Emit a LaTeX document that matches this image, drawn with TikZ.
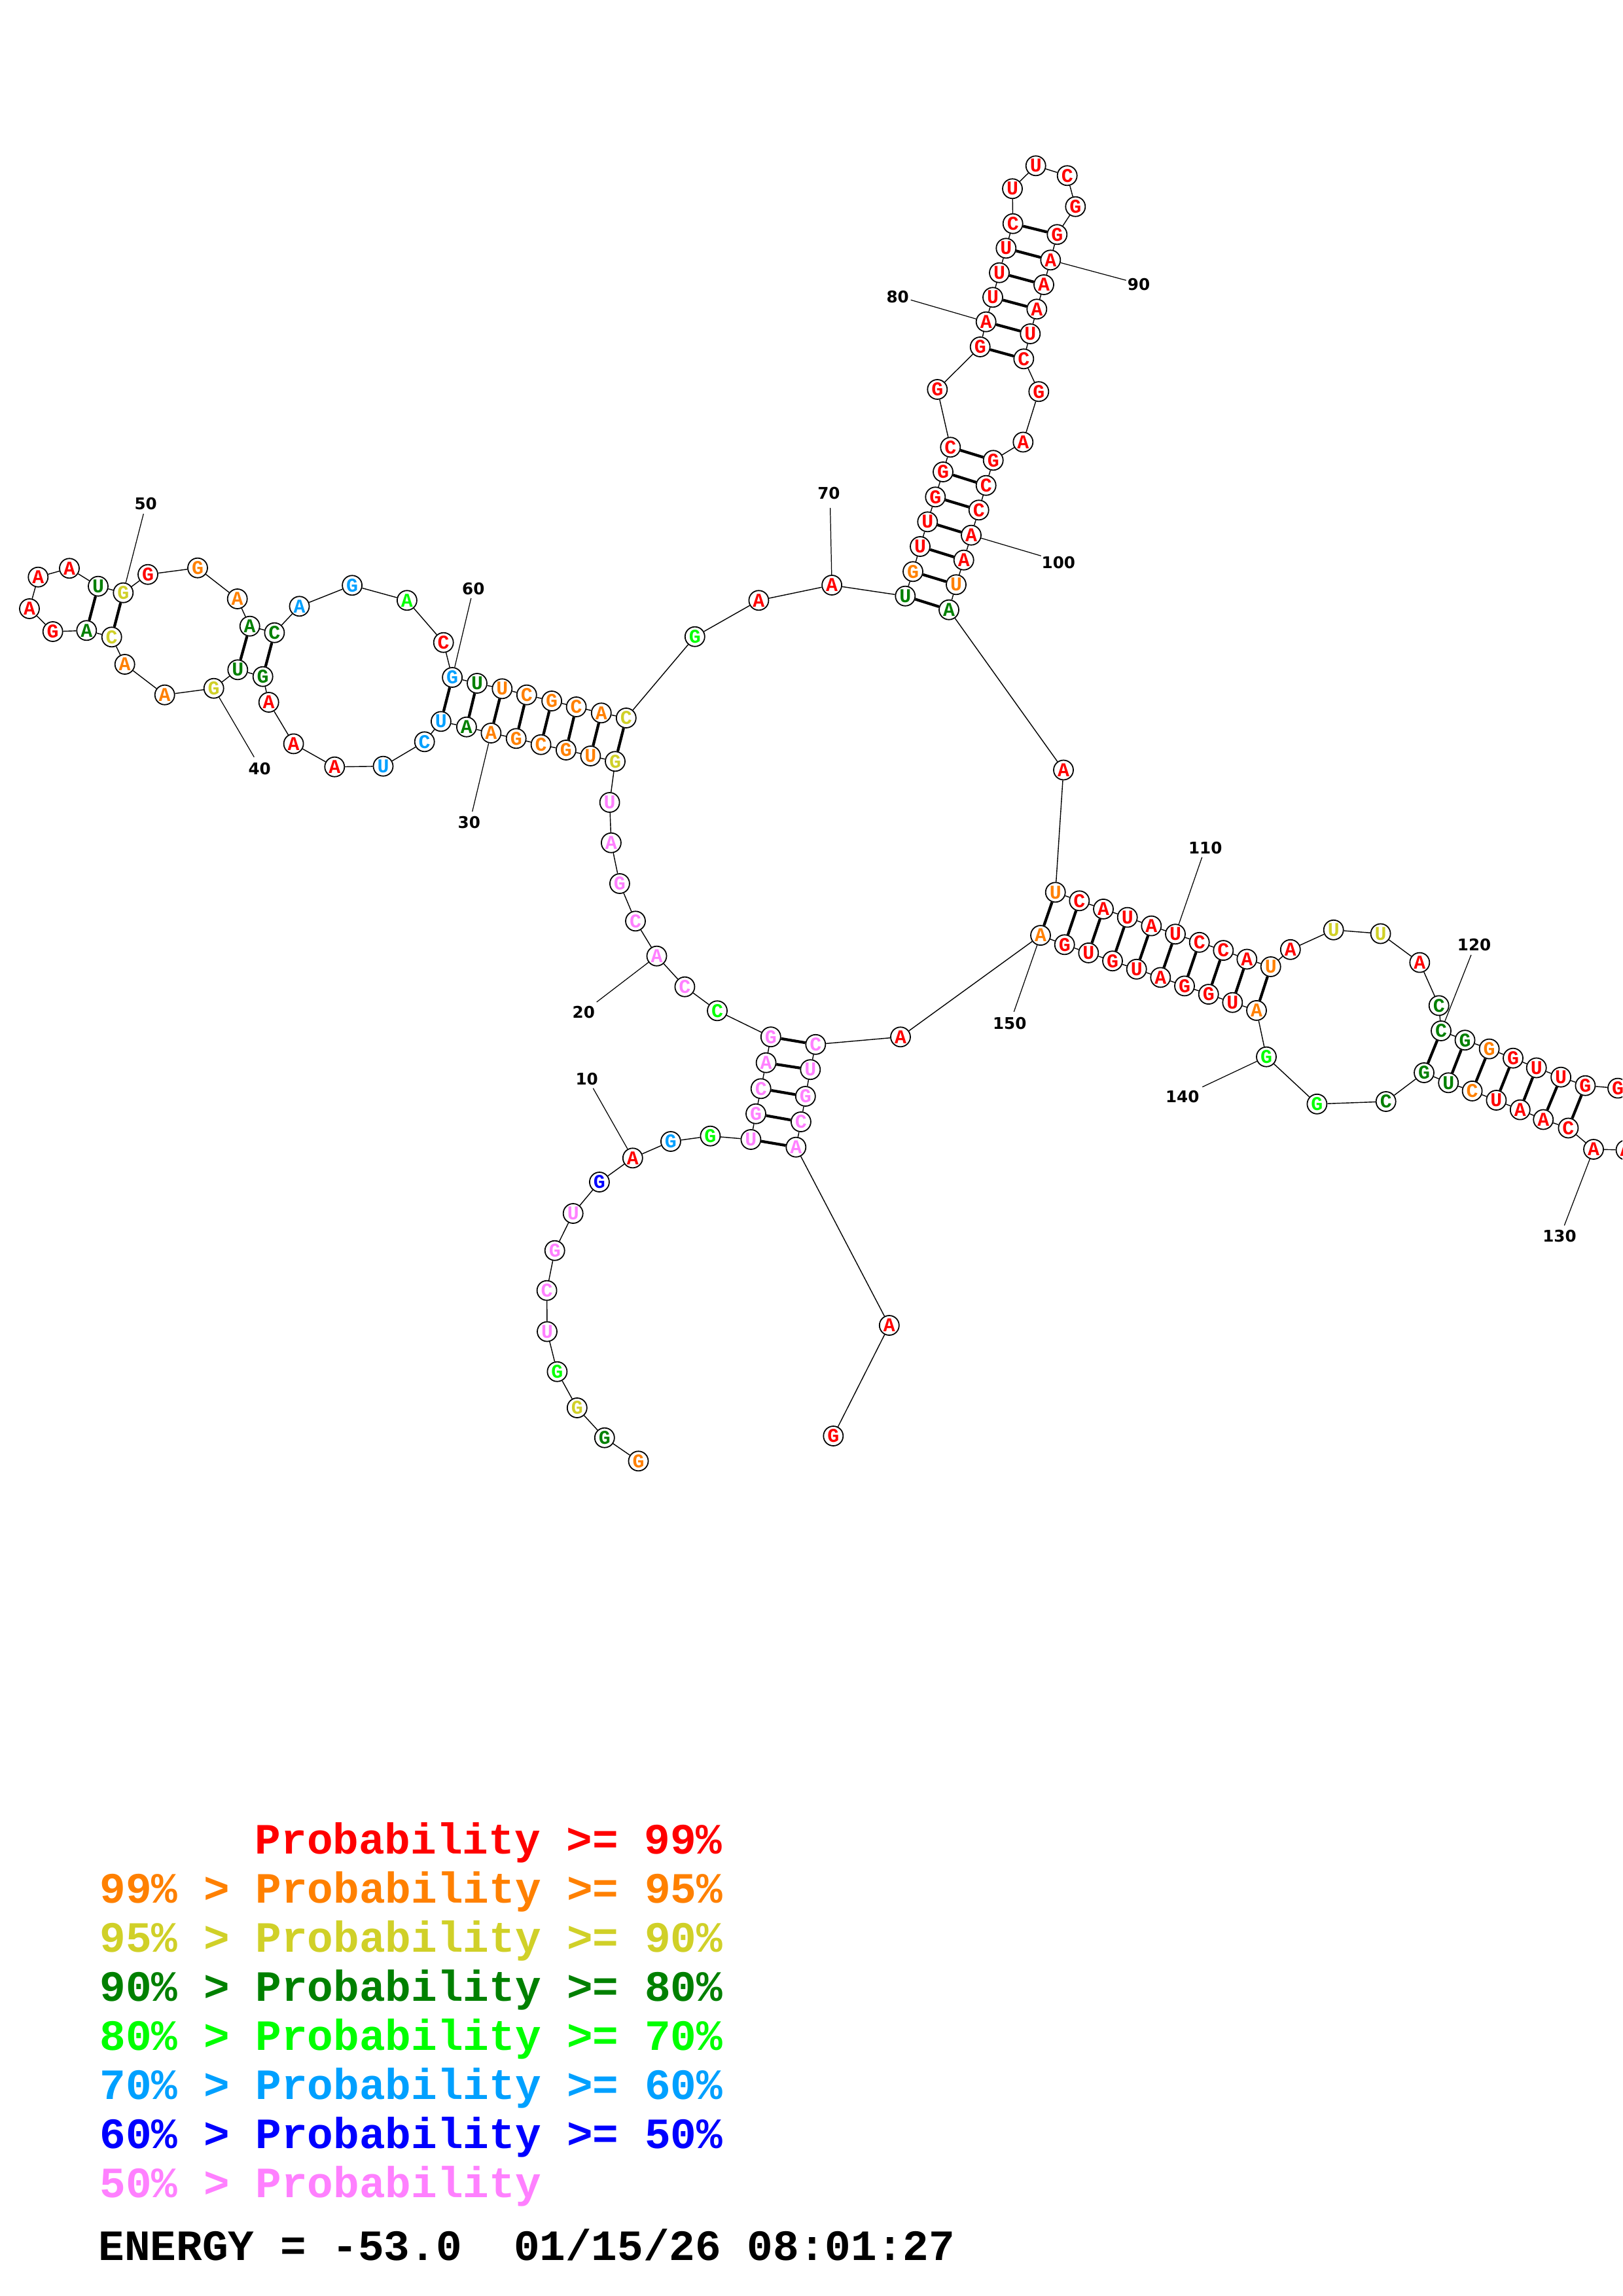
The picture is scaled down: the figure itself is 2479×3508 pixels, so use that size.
\documentclass[tikz,border=0pt]{standalone}
\usepackage{fontspec}
\newfontfamily\ntmono{Liberation Mono}
\newfontfamily\labsans{DejaVu Sans}
\usetikzlibrary{backgrounds}
\definecolor{cR}{RGB}{255,0,0}
\definecolor{cO}{RGB}{255,128,0}
\definecolor{cY}{RGB}{208,208,40}
\definecolor{cD}{RGB}{0,128,0}
\definecolor{cL}{RGB}{0,255,0}
\definecolor{cB}{RGB}{0,160,255}
\definecolor{cN}{RGB}{0,0,255}
\definecolor{cP}{RGB}{255,128,255}
\begin{document}
\begin{tikzpicture}[x=0.1mm,y=-0.1mm,
  nt/.style={circle,draw=black,line width=0.5pt,fill=white,minimum size=3mm,inner sep=0pt,
    font=\fontsize{8.5}{8.5}\selectfont\ntmono\bfseries},
  bb/.style={line width=0.4pt,draw=black},
  bp/.style={line width=1.2pt,draw=black},
  lab/.style={inner sep=0pt,font=\fontsize{7}{7}\selectfont\labsans\bfseries},
  labline/.style={line width=0.35pt,draw=black},
  leg/.style={anchor=base west,inner sep=0pt,font=\fontsize{18.8}{18.8}\selectfont\ntmono\bfseries}]
\clip (0,0) rectangle (2479,3508);
\useasboundingbox (0,0) rectangle (2479,3508);
% nucleotides
\foreach \n/\x/\y/\b/\c in {
1/975.5/2232.3/G/cO, 2/923.8/2196.7/G/cD, 3/881.8/2151/G/cY, 4/851.4/2095.7/G/cL,
5/836/2034.5/U/cP, 6/835.6/1971.7/C/cP, 7/847.7/1910.7/G/cP, 8/875.7/1854/U/cP,
9/915.9/1806/G/cN, 10/966.8/1769.3/A/cR, 11/1024.9/1744/G/cB, 12/1085.4/1735.7/G/cL,
13/1147.4/1741/U/cP, 14/1155/1701.7/G/cP, 15/1162.7/1663.3/C/cP, 16/1170.6/1623.7/A/cP,
17/1177.8/1584.2/G/cP, 18/1096/1544.3/C/cL, 19/1046.4/1507.7/C/cP, 20/1003.5/1460.7/A/cP,
21/971/1407.3/C/cP, 22/946.9/1350/G/cP, 23/933.9/1287.7/A/cP, 24/931.6/1226/U/cP,
25/940/1163.3/G/cY, 26/902.4/1155/U/cO, 27/864.9/1146/G/cO, 28/826.6/1137.7/C/cO,
29/788.7/1128.3/G/cO, 30/750.4/1120/A/cO, 31/712.9/1110.7/A/cD, 32/673.9/1102.3/U/cB,
33/648.7/1133.3/C/cB, 34/585.5/1170.7/U/cB, 35/511.3/1171.7/A/cR, 36/448.6/1136.4/A/cR,
37/410.7/1073/A/cR, 38/401.7/1033.7/G/cD, 39/363.3/1023.3/U/cD, 40/326.7/1051.7/G/cY,
41/251.7/1061.7/A/cO, 42/190.7/1015/A/cO, 43/170.7/973.3/C/cY, 44/132.3/963.3/A/cD,
45/80.7/965/G/cR, 46/45/930/A/cR, 47/58.3/881.7/A/cR, 48/106/868.3/A/cR,
49/150/895.7/U/cD, 50/188.3/905.7/G/cY, 51/226/877.7/G/cR, 52/302/867.7/G/cO,
53/362.7/915/A/cO, 54/381.7/956.7/A/cD, 55/419.4/966.7/C/cD, 56/457.5/926.3/A/cB,
57/538.1/894.3/G/cB, 58/621.9/917.3/A/cL, 59/677.7/981.7/C/cR, 60/691.1/1035/G/cB,
61/729/1044/U/cD, 62/767.3/1052.3/U/cO, 63/804.8/1061.7/C/cO, 64/843.1/1071/G/cO,
65/880.6/1080/C/cO, 66/918.8/1089.3/A/cO, 67/956.8/1097/C/cY, 68/1061.8/972.7/G/cL,
69/1159.4/917.3/A/cR, 70/1271.1/894/A/cR, 71/1383.3/910.7/U/cD, 72/1395/873.3/G/cO,
73/1406/835/U/cR, 74/1417.3/797.3/U/cR, 75/1429.3/759.3/G/cR, 76/1441/721/G/cR,
77/1452.3/683.3/C/cR, 78/1432.3/595/G/cR, 79/1497.7/530/G/cR, 80/1506.7/491.7/A/cR,
81/1517/454.3/U/cR, 82/1527/416.7/U/cR, 83/1537.3/379.3/U/cR, 84/1547.7/341.7/C/cR,
85/1547/288.3/U/cR, 86/1582.7/253.3/U/cR, 87/1630.7/268.3/C/cR, 88/1643.3/315.7/G/cR,
89/1615.3/358.3/G/cR, 90/1605.3/397.3/A/cR, 91/1595/435/A/cR, 92/1584.3/472.3/A/cR,
93/1574.3/510/U/cR, 94/1564.3/548.3/C/cR, 95/1587.3/598.3/G/cR, 96/1563.3/675.5/A/cR,
97/1517.7/703.3/G/cR, 98/1506.7/741.7/C/cR, 99/1495.7/779.3/C/cR, 100/1484/817.7/A/cR,
101/1472.7/855.7/A/cR, 102/1461/893.3/U/cO, 103/1450/931.7/A/cD, 104/1625/1176.5/A/cR,
105/1612.7/1363.3/U/cO, 106/1649.3/1376.3/C/cR, 107/1686/1388.9/A/cR, 108/1722.7/1401.6/U/cR,
109/1759.3/1414.6/A/cR, 110/1796/1427.2/U/cR, 111/1832.7/1439.8/C/cR, 112/1869.3/1452.1/C/cR,
113/1905.3/1465.5/A/cR, 114/1941.7/1477/U/cO, 115/1971.8/1450.8/A/cR, 116/2037.7/1420.8/U/cY,
117/2109.6/1426.5/U/cY, 118/2169.3/1470.6/A/cR, 119/2198.7/1536.4/C/cD, 120/2202/1575/C/cD,
121/2238.5/1589.2/G/cD, 122/2275.6/1602.6/G/cO, 123/2312/1616.7/G/cR, 124/2347.7/1631.5/U/cR,
125/2385.1/1645.7/U/cR, 126/2422.4/1658.7/G/cR, 127/2472/1662.6/G/cR,
129/2484.5/1757/A/cR, 130/2435/1756/A/cR, 131/2396.4/1723.5/C/cR, 132/2358.2/1710.5/A/cR,
133/2322.8/1695.6/A/cR, 134/2286.4/1681/U/cR, 135/2249.6/1666.9/C/cO, 136/2213.2/1654.3/U/cD,
137/2176/1639/G/cD, 138/2117.7/1683/C/cD, 139/2012.4/1686.8/G/cL, 140/1935/1614.7/G/cL,
141/1920/1543.9/A/cO, 142/1883.3/1531.7/U/cR, 143/1846.7/1519.1/G/cR, 144/1810/1506.4/G/cR,
145/1773.3/1493.4/A/cR, 146/1736.7/1480.8/U/cR, 147/1700/1468.2/G/cR, 148/1663.3/1455.9/U/cR,
149/1626.7/1443.3/G/cR, 150/1590/1429.1/A/cO, 151/1376/1584.3/A/cR, 152/1246.3/1595.8/C/cP,
153/1238.3/1634.2/U/cP, 154/1230.8/1675/G/cP, 155/1223.9/1714/C/cP, 156/1216.3/1752.7/A/cP,
157/1358.8/2025/A/cR, 158/1273.3/2194/G/cR}
  \node[nt,text=\c] (n\n) at (\x,\y) {\b};
\coordinate (n128) at (2510.6,1695);
% backbone
\foreach \i [evaluate=\i as \j using int(\i+1)] in {1,...,157}
  \draw[bb] (n\i) -- (n\j);
% base pairs
\foreach \a/\b in {13/156,14/155,15/154,16/153,17/152,
  25/67,26/66,27/65,28/64,29/63,30/62,31/61,32/60,
  38/55,39/54,43/50,44/49,
  71/103,72/102,73/101,74/100,75/99,76/98,77/97,
  79/94,80/93,81/92,82/91,83/90,84/89,
  105/150,106/149,107/148,108/147,109/146,110/145,111/144,112/143,113/142,114/141,
  120/137,121/136,122/135,123/134,124/133,125/132,126/131}
  \draw[bp] (n\a) -- (n\b);
% position labels
\foreach \n/\lx/\ly/\ex/\ey in {
  10/896.7/1648.3/906.3/1662.7, 20/891.8/1546.7/911.7/1531,
  30/716.8/1256.7/721.7/1240, 40/396.7/1174.3/388.3/1156.7,
  50/222.7/770/219.3/785, 60/723.3/899.3/719.8/914,
  70/1266.4/754/1268.6/776, 80/1371.7/454/1391.7/458.3,
  90/1740/435/1720.7/428.3, 100/1617.3/859.3/1590.7/849.3,
  110/1841.7/1295.2/1836.7/1309.7, 120/2252.6/1443.8/2247.9/1459,
  130/2382.9/1888.8/2390.3/1872.4, 140/1806.7/1676/1837.3/1660.7,
  150/1542.7/1563.1/1549.3/1545.9}
{
  \node[lab] (t\n) at (\lx,\ly) {\n};
  \coordinate (e\n) at (\ex,\ey);
  \draw[labline] (n\n) -- (e\n);
}
% legend
\node[leg,text=cR] (g1) at (389,2832) {Probability >= 99\%};
\node[leg,text=cO] (g2) at (152,2907) {99\% > Probability >= 95\%};
\node[leg,text=cY] (g3) at (152,2982) {95\% > Probability >= 90\%};
\node[leg,text=cD] (g4) at (152,3057) {90\% > Probability >= 80\%};
\node[leg,text=cL] (g5) at (152,3132) {80\% > Probability >= 70\%};
\node[leg,text=cB] (g6) at (152,3207) {70\% > Probability >= 60\%};
\node[leg,text=cN] (g7) at (152,3282) {60\% > Probability >= 50\%};
\node[leg,text=cP] (g8) at (152,3357) {50\% > Probability};
\node[leg,text=black] (g9) at (150,3453) {ENERGY = -53.0\ \ 01/15/26 08:01:27};
\end{tikzpicture}
\end{document}
